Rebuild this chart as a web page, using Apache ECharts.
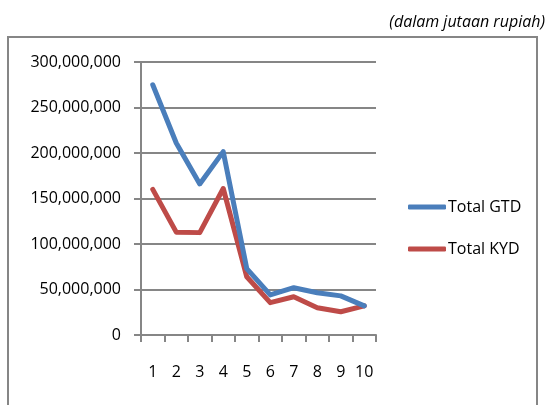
<!DOCTYPE html>
<html>
<head>
<meta charset="utf-8">
<script src="https://cdn.jsdelivr.net/npm/echarts@6/dist/echarts.min.js"></script>
<style>
  html, body { margin: 0; padding: 0; background: #fff; }
  #chart { width: 553px; height: 405px; }
</style>
</head>
<body>
<div id="chart"></div>
<script>
// Period numbers on the x axis
var categories = ['1', '2', '3', '4', '5', '6', '7', '8', '9', '10'];
// Totals per period (rupiah, in millions)
var totalGTD = [275000000, 211000000, 166000000, 201500000, 73000000, 44000000, 52000000, 46500000, 43000000, 32000000];
var totalKYD = [160000000, 113000000, 112500000, 161000000, 64000000, 35500000, 42000000, 30000000, 25600000, 32000000];
var seriesNames = ['Total GTD', 'Total KYD'];
var unitNote = '(dalam jutaan rupiah)';

var FONT = "'Open Sans', 'Noto Sans', sans-serif";
var GRAY = '#868686';

var chart = echarts.init(document.getElementById('chart'));

function withCommas(v) {
  return String(v).replace(/\B(?=(\d{3})+(?!\d))/g, ',');
}

chart.setOption({
  animation: false,
  backgroundColor: '#ffffff',
  textStyle: { fontFamily: FONT },
  title: {
    text: unitNote,
    right: 8,
    top: 14,
    padding: 0,
    textStyle: { fontFamily: FONT, fontSize: 16, fontStyle: 'italic', fontWeight: 'normal', color: '#000' }
  },
  graphic: [{
    type: 'rect',
    z: -1,
    shape: { x: 8, y: 37, width: 529, height: 420 },
    style: { fill: 'none', stroke: GRAY, lineWidth: 2 }
  }],
  legend: {
    orient: 'vertical',
    left: 403,
    top: 192,
    itemWidth: 38,
    itemHeight: 5,
    itemGap: 22,
    icon: 'roundRect',
    data: seriesNames,
    textStyle: { fontFamily: FONT, fontSize: 16, color: '#000', lineHeight: 20, padding: [0, 0, 0, -3] }
  },
  grid: { left: 141, right: 177, top: 62, bottom: 70, containLabel: false },
  xAxis: {
    type: 'category',
    data: categories,
    boundaryGap: true,
    axisLine: { lineStyle: { color: GRAY, width: 2 } },
    axisTick: { show: true, length: 7, lineStyle: { color: GRAY, width: 2 } },
    axisLabel: { interval: 0, margin: 29, fontSize: 16, color: '#000', fontFamily: FONT }
  },
  yAxis: {
    type: 'value',
    min: 0,
    max: 300000000,
    interval: 50000000,
    axisLine: { show: true, lineStyle: { color: GRAY, width: 2 } },
    axisTick: { show: true, length: 7, lineStyle: { color: GRAY, width: 2 } },
    splitLine: { lineStyle: { color: GRAY, width: 2 } },
    axisLabel: { margin: 20, fontSize: 16, color: '#000', fontFamily: FONT, formatter: withCommas }
  },
  series: [
    {
      name: seriesNames[0],
      type: 'line',
      data: totalGTD,
      symbol: 'none',
      color: '#4A7EBB',
      lineStyle: { width: 5, color: '#4A7EBB', join: 'round', cap: 'round' },
      z: 3
    },
    {
      name: seriesNames[1],
      type: 'line',
      data: totalKYD,
      symbol: 'none',
      color: '#BE4B48',
      lineStyle: { width: 5, color: '#BE4B48', join: 'round', cap: 'round' },
      z: 2
    }
  ]
});
</script>
</body>
</html>
